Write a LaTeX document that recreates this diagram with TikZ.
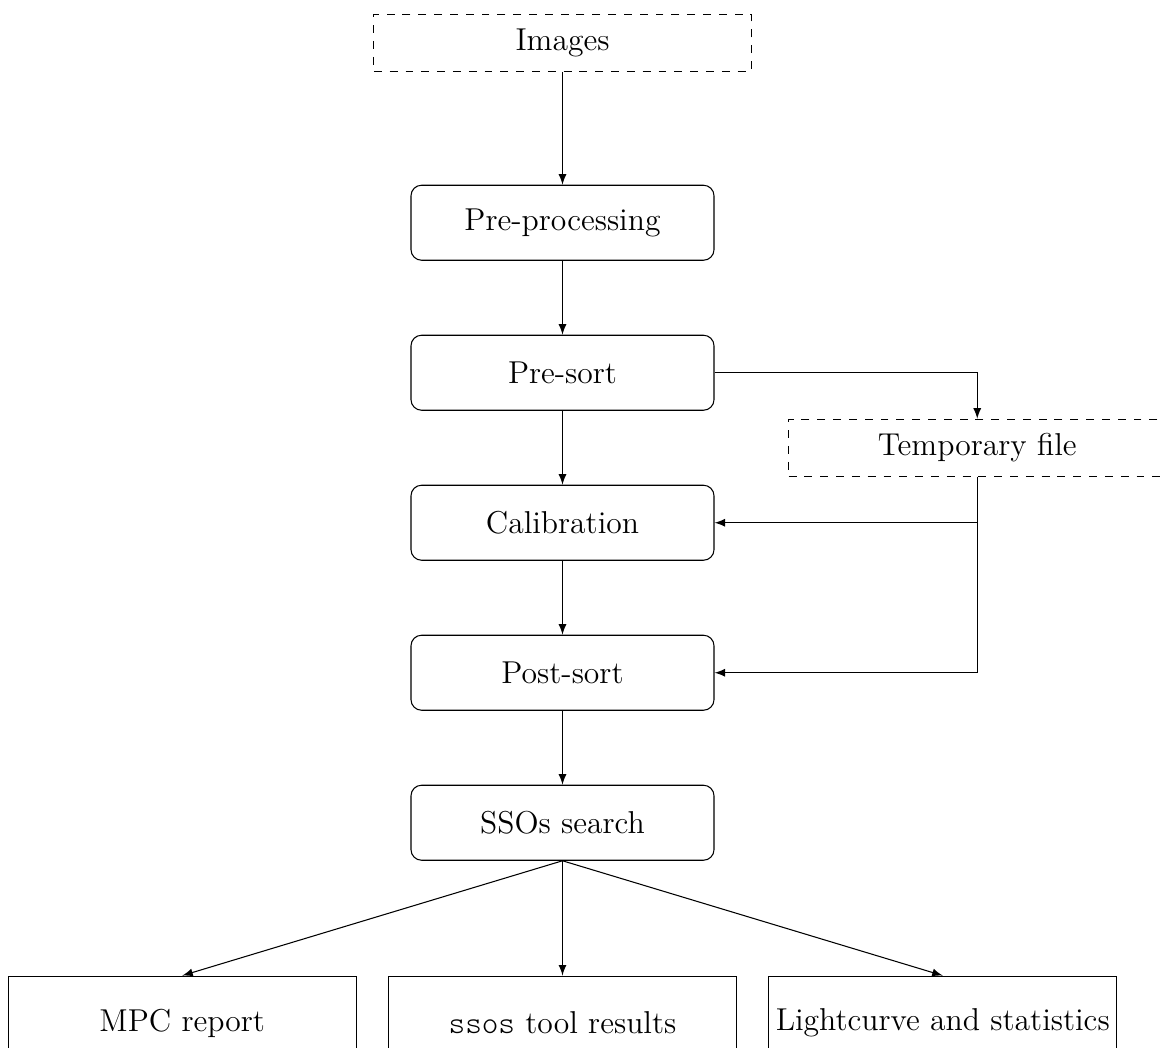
\documentclass[tikz,border=0pt]{standalone}
\usepackage{amsmath}
\usepackage{fontspec}
\newfontfamily\lighttt{Latin Modern Mono Light}
\usepackage{tikz}
\usetikzlibrary{shapes,arrows}
\usetikzlibrary{arrows.meta, positioning}

\begin{document}
\begin{tikzpicture}[node distance=2.0cm, >=latex,
    stepbox/.style={draw, rounded corners, minimum width=4.04cm, minimum height=1cm, font=\large},
    filebox/.style={draw, dashed, minimum width=5.03cm, minimum height=0.76cm, font=\large},
    outbox/.style={draw, minimum width=4.64cm, minimum height=1.25cm, inner xsep=2pt, font=\large}]
        \useasboundingbox (0,0) rectangle (15.52,13.97);
        \node[stepbox] (pre) at (7.5,11) {Pre-processing};
        \node[filebox] (img) [above of=pre, node distance=2.4cm] {Images};
        \node[stepbox] (sort) [below of=pre] {Pre-sort};
        \node[stepbox] (cal) [below of=sort] {Calibration};
        \node[stepbox] (post) [below of=cal] {Post-sort};
        \node[stepbox] (search) [below of=post] {SSOs search};
        \node[filebox] (tmp) at (13.03,8) {Temporary file};
        \node[outbox] (tool) [below of=search, node distance=2.67cm] {{\lighttt ssos} tool results};
        \node[outbox] (mpc) [left of=tool, node distance=5.07cm] {MPC report};
        \node[outbox] (lc) [right of=tool, node distance=5.07cm] {Lightcurve and statistics};

        \draw[->] (img) -- (pre);
        \draw[->] (pre) -- (sort);
        \draw[->] (sort) -- (cal);
        \draw[->] (cal) -- (post);
        \draw[->] (post) -- (search);
        \draw[->] (sort) -| (tmp);
        \draw[->] (tmp) |- (cal);
        \draw[->] (tmp) |- (post);
        \draw[->] (search.south) -- (mpc.north);
        \draw[->] (search.south) -- (tool.north);
        \draw[->] (search.south) -- (lc.north);
  \end{tikzpicture}
\end{document}
